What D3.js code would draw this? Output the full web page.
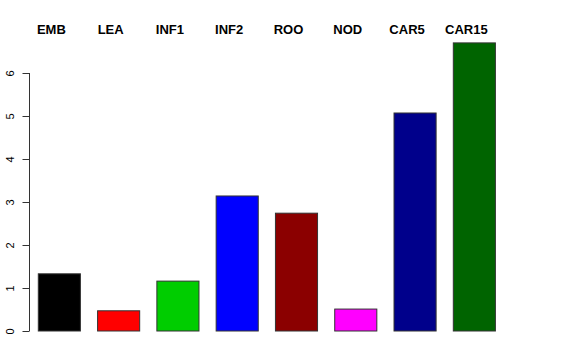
<!DOCTYPE html>
<html>
<head>
<meta charset="utf-8">
<script src="https://cdn.jsdelivr.net/npm/d3@7"></script>
<style>
  body { margin: 0; background: #fff; }
  text { font-family: "Liberation Sans", Arial, sans-serif; }
</style>
</head>
<body>
<div id="chart"></div>
<script>
// Data
const categories = ["EMB", "LEA", "INF1", "INF2", "ROO", "NOD", "CAR5", "CAR15"];
const values = [1.33, 0.47, 1.16, 3.14, 2.74, 0.51, 5.07, 6.70];
const barColors = ["#000000", "#ff0000", "#00cd00", "#0000ff", "#8b0000", "#ff00ff", "#00008b", "#006400"];
const yTicks = [0, 1, 2, 3, 4, 5, 6];

const width = 576, height = 360;

const svg = d3.select("#chart").append("svg")
    .attr("width", width)
    .attr("height", height);

// Scales
const x = d3.scaleBand()
    .domain(categories)
    .range([38.3, 495.4])
    .paddingInner(0.29)
    .paddingOuter(0);

const y = d3.scaleLinear()
    .domain([0, 6])
    .range([331, 73]);

// Bars
svg.selectAll(".bar")
    .data(categories)
    .enter().append("rect")
    .attr("class", "bar")
    .attr("x", d => x(d))
    .attr("width", x.bandwidth())
    .attr("y", (d, i) => y(values[i]))
    .attr("height", (d, i) => y(0) - y(values[i]))
    .attr("fill", (d, i) => barColors[i])
    .attr("stroke", "#333")
    .attr("stroke-width", 1);

// Y axis, R style: rotated labels
const yAxis = d3.axisLeft(y)
    .tickValues(yTicks)
    .tickSize(7)
    .tickPadding(6)
    .tickFormat(d3.format("d"));

const gy = svg.append("g")
    .attr("transform", "translate(29.5,0)")
    .call(yAxis);
gy.select(".domain").attr("d", "M0," + y(0) + "V" + y(6)).attr("stroke", "#333");
gy.selectAll(".tick line").attr("stroke", "#333");
gy.selectAll(".tick text")
    .attr("font-size", 11)
    .attr("fill", "#000")
    .attr("x", null)
    .attr("dy", null)
    .attr("text-anchor", "middle")
    .attr("transform", "translate(-16,0) rotate(-90)");

// Category labels along the top
svg.selectAll(".lab")
    .data(categories)
    .enter().append("text")
    .attr("class", "lab")
    .attr("x", d => x(d) + x.bandwidth() / 2 - 8)
    .attr("y", 34)
    .attr("text-anchor", "middle")
    .attr("font-size", 13)
    .attr("font-weight", "bold")
    .text(d => d);
</script>
</body>
</html>
